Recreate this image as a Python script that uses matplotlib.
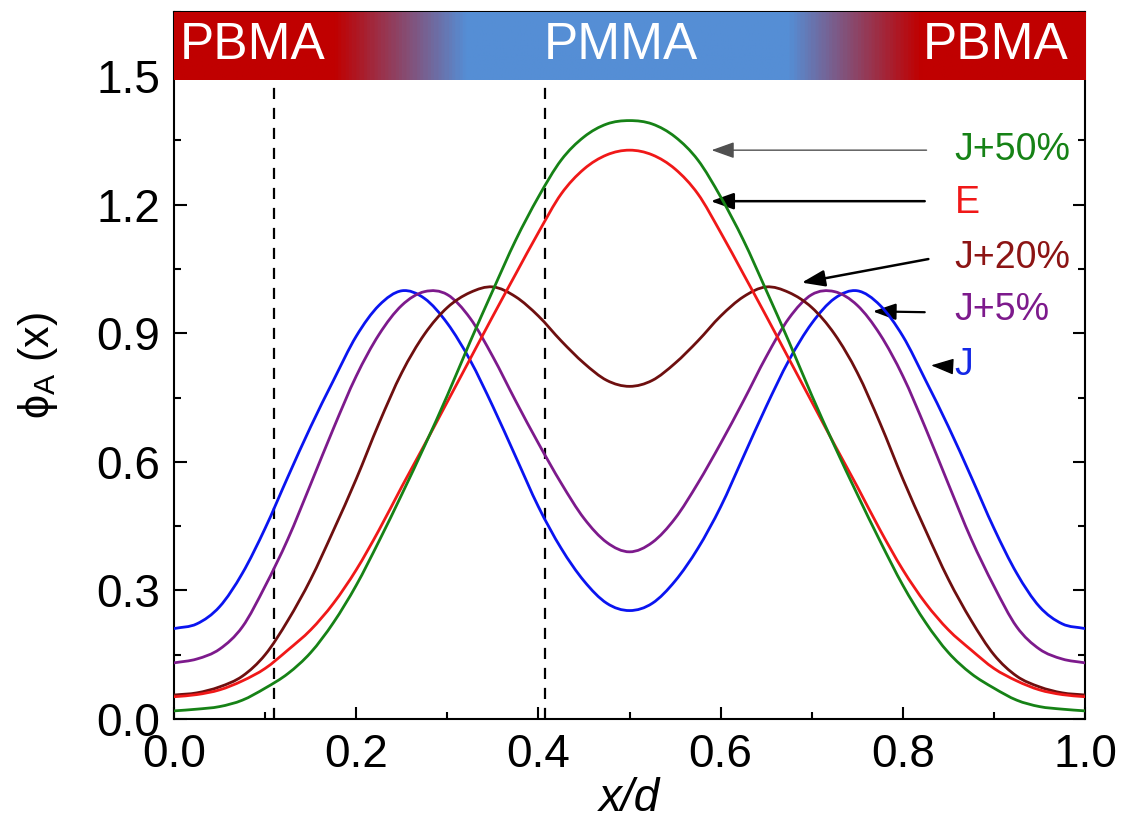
import numpy as np
import matplotlib
matplotlib.use('Agg')
import matplotlib.pyplot as plt
from matplotlib.colors import LinearSegmentedColormap
from matplotlib.ticker import MultipleLocator
from matplotlib.path import Path
from matplotlib.patches import PathPatch

plt.rcParams['font.family'] = ['Liberation Sans', 'DejaVu Sans']
plt.rcParams['mathtext.fontset'] = 'custom'
plt.rcParams['mathtext.rm'] = 'Liberation Sans'
plt.rcParams['mathtext.it'] = 'Liberation Sans:italic'

# x/d sample positions (step 0.025)
xd = np.arange(41) * 0.025

phi_J = [.211, .222, .262, .340, .445, .565, .682, .790, .893, .965, .999, .981, .923, .837, .729,
         .612, .495, .398, .322, .270, .253, .270, .322, .398, .495, .612, .729, .837, .923, .981,
         .999, .965, .893, .790, .682, .565, .445, .340, .262, .222, .211]
phi_J5 = [.131, .140, .163, .215, .310, .420, .548, .678, .800, .897, .965, .997, .990, .935, .845,
          .742, .643, .550, .468, .412, .390, .412, .468, .550, .643, .742, .845, .935, .990, .997,
          .965, .897, .800, .678, .548, .420, .310, .215, .163, .140, .131]
phi_J20 = [.056, .061, .075, .100, .150, .230, .326, .440, .560, .690, .808, .898, .960, .995, 1.008,
           .985, .940, .882, .830, .790, .776, .790, .830, .882, .940, .985, 1.008, .995, .960, .898,
           .808, .690, .560, .440, .326, .230, .150, .100, .075, .061, .056]
phi_E = [.052, .057, .068, .089, .118, .161, .208, .270, .348, .441, .542, .640, .740, .840, .940,
         1.038, 1.135, 1.225, 1.283, 1.316, 1.327, 1.316, 1.283, 1.225, 1.135, 1.038, .940, .840, .740,
         .640, .542, .441, .348, .270, .208, .161, .118, .089, .068, .057, .052]
phi_J50 = [.019, .023, .029, .044, .072, .106, .155, .225, .312, .415, .524, .637, .755, .880, 1.000,
           1.117, 1.218, 1.304, 1.358, 1.388, 1.396, 1.388, 1.358, 1.304, 1.218, 1.117, 1.000, .880,
           .755, .637, .524, .415, .312, .225, .155, .106, .072, .044, .029, .023, .019]

series = [phi_J, phi_J5, phi_J20, phi_E, phi_J50]
colors = ['#0a14f0', '#7d1a8c', '#6e0f0f', '#f01818', '#168216']
labels = ['J', 'J+5%', 'J+20%', 'E', 'J+50%']
label_colors = ['#1428e6', '#7d1a8c', '#8c1414', '#f01818', '#168216']
label_y = [0.826, 0.954, 1.075, 1.204, 1.327]
arrow_tail = [(0.848, 0.823), (0.824, 0.949), (0.828, 1.073), (0.824, 1.208), (0.826, 1.327)]
arrow_head = [(0.831, 0.825), (0.767, 0.951), (0.689, 1.018), (0.589, 1.208), (0.590, 1.327)]
arrow_lw = [1.0, 1.6, 1.8, 1.8, 1.0]
arrow_col = ['black', 'black', 'black', 'black', '#505050']

# interface positions
interfaces = [0.11, 0.407]

# top composition band
band_stops = [0.0, 0.175, 0.32, 0.675, 0.82, 1.0]
band_colors = ['#c00000', '#c00000', '#558ed5', '#558ed5', '#c00000', '#c00000']
band_names = ['PBMA', 'PMMA', 'PBMA']
band_name_x = [0.006, 0.49, 0.982]
band_name_ha = ['left', 'center', 'right']


def smooth_path(x, y):
    # Catmull-Rom through the points, drawn as cubic Bezier segments
    p = np.column_stack([x, y])
    m = np.zeros_like(p)
    m[1:-1] = (p[2:] - p[:-2]) / 2
    m[0] = p[1] - p[0]
    m[-1] = p[-1] - p[-2]
    verts = [p[0]]
    codes = [Path.MOVETO]
    for i in range(len(p) - 1):
        verts += [p[i] + m[i] / 3, p[i + 1] - m[i + 1] / 3, p[i + 1]]
        codes += [Path.CURVE4] * 3
    return Path(verts, codes)


fig = plt.figure(figsize=(11.25, 8.24), dpi=100)
ax = fig.add_axes([0.1547, 0.1274, 0.8098, 0.8584])

for y, c in zip(series, colors):
    ax.add_patch(PathPatch(smooth_path(xd, y), fill=False, edgecolor=c, lw=2.0, zorder=4,
                           capstyle='round', joinstyle='round'))

for xi in interfaces:
    ax.plot([xi, xi], [0, 1.49], color='black', lw=1.6, ls=(0, (5, 4)), zorder=3)

cmap = LinearSegmentedColormap.from_list('band', list(zip(band_stops, band_colors)))
ax.imshow(np.linspace(0, 1, 600)[None, :], cmap=cmap, aspect='auto',
          extent=(0, 1, 1.49, 1.65), zorder=5)
for name, bx, ha in zip(band_names, band_name_x, band_name_ha):
    ax.text(bx, 1.572, name, color='white', fontsize=37, ha=ha, va='center', zorder=6)

for lab, lc, ly, t, h, lw, ac in zip(labels, label_colors, label_y, arrow_tail, arrow_head,
                                      arrow_lw, arrow_col):
    ax.text(0.857, ly, lab, color=lc, fontsize=27, ha='left', va='center')
    ax.annotate('', xy=h, xytext=t,
                arrowprops=dict(arrowstyle='-|>,head_length=0.7,head_width=0.25', color=ac,
                                lw=lw, shrinkA=0, shrinkB=0, mutation_scale=20))

ax.set_xlim(0, 1)
ax.set_ylim(0, 1.65)
ax.set_xticks([0, 0.2, 0.4, 0.6, 0.8, 1.0])
ax.set_yticks([0, 0.3, 0.6, 0.9, 1.2, 1.5])
ax.xaxis.set_minor_locator(MultipleLocator(0.1))
ax.yaxis.set_minor_locator(MultipleLocator(0.15))
ax.set_xticklabels(['0.0', '0.2', '0.4', '0.6', '0.8', '1.0'])
ax.set_yticklabels(['0.0', '0.3', '0.6', '0.9', '1.2', '1.5'])
ax.tick_params(which='both', direction='in', left=True, right=True, top=False, bottom=True,
               width=1.5, labelsize=33)
ax.tick_params(which='major', length=9, pad=10)
ax.tick_params(which='minor', length=5)
for s in ax.spines.values():
    s.set_linewidth(1.5)

ax.set_xlabel('x/d', fontsize=33, style='italic', labelpad=0)
ax.set_ylabel('\u03d5$_\\mathregular{A}$ (x)', fontsize=31, labelpad=26)

fig.savefig('out.png', dpi=100)
